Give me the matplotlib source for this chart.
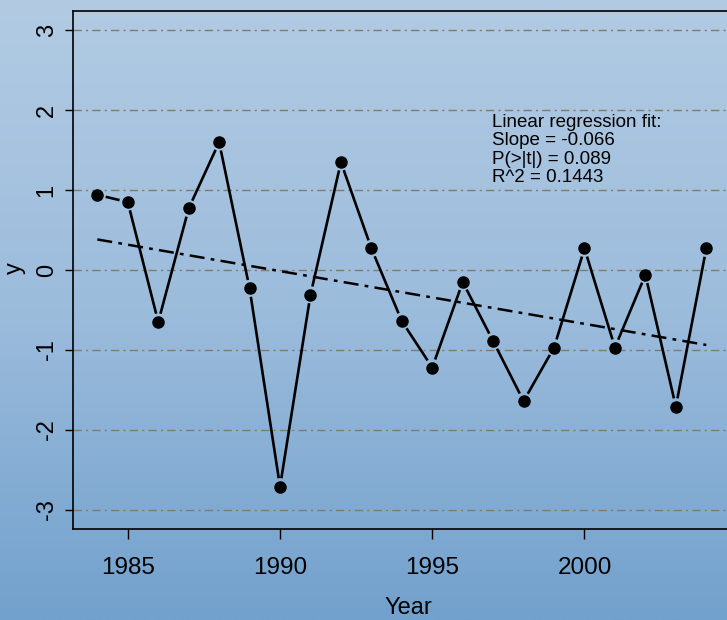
import numpy as np
import matplotlib
matplotlib.use("Agg")
import matplotlib.pyplot as plt
from matplotlib.colors import LinearSegmentedColormap

plt.rcParams['font.family'] = ['Liberation Sans', 'DejaVu Sans']

years = [1984, 1985, 1986, 1987, 1988, 1989, 1990, 1991, 1992, 1993, 1994,
         1995, 1996, 1997, 1998, 1999, 2000, 2001, 2002, 2003, 2004]
values = [0.94, 0.85, -0.65, 0.77, 1.60, -0.23, -2.71, -0.31, 1.35, 0.27, -0.64,
          -1.22, -0.15, -0.89, -1.64, -0.97, 0.27, -0.97, -0.06, -1.71, 0.27]
fit_slope = -0.066
fit_text = ["Linear regression fit:", "Slope = -0.066",
            "P(>|t|) = 0.089", "R^2 = 0.1443"]
y_ticks = [-3, -2, -1, 0, 1, 2, 3]
x_ticks = [1985, 1990, 1995, 2000]

x = np.array(years, dtype=float)
y = np.array(values, dtype=float)

W, H = 727, 620
fig = plt.figure(figsize=(W / 100, H / 100), dpi=100)

# vertical gradient background over the whole figure
bg = fig.add_axes([0, 0, 1, 1], zorder=-10)
cmap = LinearSegmentedColormap.from_list("bg", ["#b2cbe3", "#9cbcdc", "#72a1cd"])
grad = np.linspace(0, 1, 256).reshape(-1, 1)
bg.imshow(grad, aspect="auto", cmap=cmap, extent=[0, 1, 0, 1], origin="upper")
bg.axis("off")

ax = fig.add_axes([73 / W, 1 - 529 / H, 1.005 - 73 / W, (529 - 11) / H])
ax.patch.set_alpha(0)
ax.set_xlim(1983.2, 2004.8)
ax.set_ylim(-3.24, 3.24)

# dash-dot horizontal guides
for t in y_ticks:
    ax.axhline(t, color="#7f7b6e", lw=1.0, dashes=(6, 3, 1.5, 3), zorder=1)

# regression line through the mean with the stated slope
fit = y.mean() + fit_slope * (x - x.mean())
ax.plot(x, fit, color="black", lw=1.8, dashes=(6, 2.5, 1.5, 2.5), zorder=2)

# points joined by segments that stop short of each marker
fig.canvas.draw()
trans = ax.transData
inv = trans.inverted()
pts = trans.transform(np.column_stack([x, y]))
gap = 8.5
for (p0, p1) in zip(pts[:-1], pts[1:]):
    d = p1 - p0
    L = np.hypot(*d)
    if L <= 2 * gap:
        continue
    u = d / L
    a = inv.transform(p0 + u * gap)
    b = inv.transform(p1 - u * gap)
    ax.plot([a[0], b[0]], [a[1], b[1]], color="black", lw=1.9,
            solid_capstyle="butt", zorder=3)
ax.plot(x, y, "o", color="black", ms=8, zorder=4)

ax.text(1996.95, 1.95, "\n".join(fit_text), fontsize=13.5, va="top", ha="left",
        linespacing=1.1)

ax.set_yticks(y_ticks)
ax.set_yticklabels([str(t) for t in y_ticks], rotation=90, va="center",
                   fontsize=17)
ax.set_xticks(x_ticks)
ax.set_xticklabels([str(t) for t in x_ticks], fontsize=17.5)
ax.tick_params(axis="x", length=7.5, width=1, color="black", pad=13)
ax.tick_params(axis="y", length=6, width=1, color="black", pad=5)

for s in ["top", "left", "bottom"]:
    ax.spines[s].set_linewidth(1.2)
ax.spines["right"].set_visible(False)

fig.text(408 / W, 1 - 608 / H, "Year", fontsize=17, ha="center", va="center")
fig.text(15 / W, 1 - 268 / H, "y", fontsize=17, ha="center", va="center",
         rotation=90)

fig.savefig("out.png", dpi=100)
